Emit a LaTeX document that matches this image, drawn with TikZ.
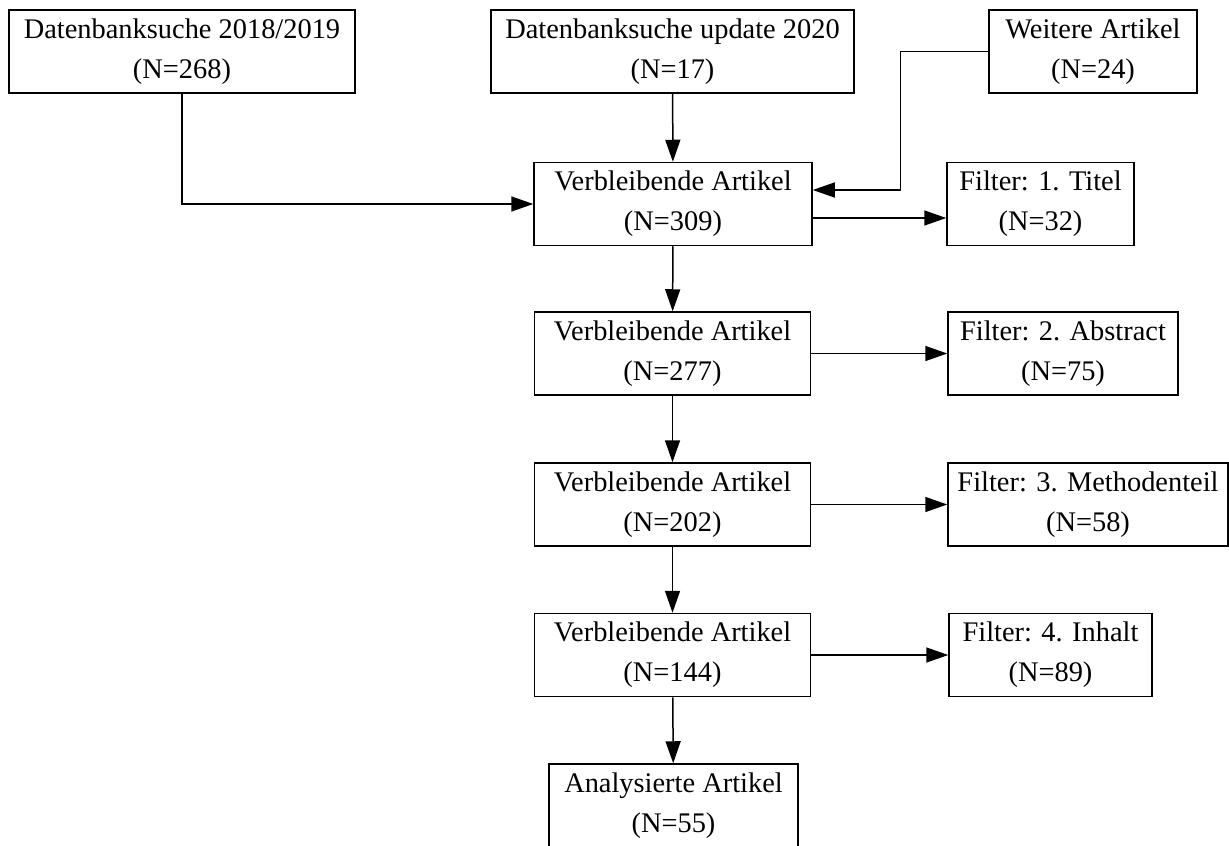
\documentclass[tikz,border=0pt]{standalone}
\usepackage{fontspec}
\setmainfont{Liberation Serif}
\usepackage{tikz}
\usetikzlibrary{arrows.meta}
\usetikzlibrary{positioning}
\tikzset{
  myarrow/.style={
    draw=black,
    line width=0.75pt,
    -{Triangle[length=11pt,width=7.5pt]},
  },
  mybox/.style={
    draw=black,
    shape=rectangle,
    line width=0.75pt,
    align=center,
    inner sep=0pt,
    minimum height=41.5pt,
    font=\fontsize{14.2}{20}\selectfont
  }
}

\begin{document}
\begin{tikzpicture}[x=0.5pt, y=-0.5pt]
    \useasboundingbox (0, 0) rectangle (1229, 845);

    \node [mybox, minimum width=173pt] (db1) at (182, 51.5) {Datenbanksuche 2018/2019\\(N=268)};
    \node [mybox, minimum width=181.5pt] (db2) at (672.5, 51.5) {Datenbanksuche update 2020\\(N=17)};
    \node [mybox, minimum width=104pt] (weitere) at (1093, 51.5) {Weitere Artikel\\(N=24)};

    \node [mybox, minimum width=139pt] (v1) at (673, 204) {Verbleibende Artikel\\(N=309)};
    \node [mybox, minimum width=93.5pt] (f1) at (1040.5, 204) {Filter: 1. Titel\\(N=32)};
    \draw [myarrow] (db1.south) |- (v1.west);
    \draw [myarrow] (db2) -- (v1);
    \draw [myarrow] (weitere.west) -- ++(-88, 0) |- ([yshift=7pt]v1.east);
    \draw [myarrow] ([yshift=-7pt]v1.east) -- ([yshift=-7pt]f1.west);

    \node [mybox, minimum width=138pt] (v2) at (672.5, 353.5) {Verbleibende Artikel\\(N=277)};
    \node [mybox, minimum width=115pt] (f2) at (1063, 353.5) {Filter: 2. Abstract\\(N=75)};
    \draw [myarrow] (v1) -- (v2);
    \draw [myarrow] (v2) -- (f2);

    \node [mybox, minimum width=138pt] (v3) at (672.5, 504.5) {Verbleibende Artikel\\(N=202)};
    \node [mybox, minimum width=140pt] (f3) at (1088, 504.5) {Filter: 3. Methodenteil\\(N=58)};
    \draw [myarrow] (v2) -- (v3);
    \draw [myarrow] (v3) -- (f3);

    \node [mybox, minimum width=138pt] (v4) at (672.5, 655) {Verbleibende Artikel\\(N=144)};
    \node [mybox, minimum width=101.5pt] (f4) at (1050.5, 655) {Filter: 4. Inhalt\\(N=89)};
    \draw [myarrow] (v3) -- (v4);
    \draw [myarrow] (v4) -- (f4);

    \node [mybox, minimum width=124.5pt] (analyse) at (673.5, 805.5) {Analysierte Artikel\\(N=55)};
    \draw [myarrow] (v4) -- (analyse);
\end{tikzpicture}
\end{document}
